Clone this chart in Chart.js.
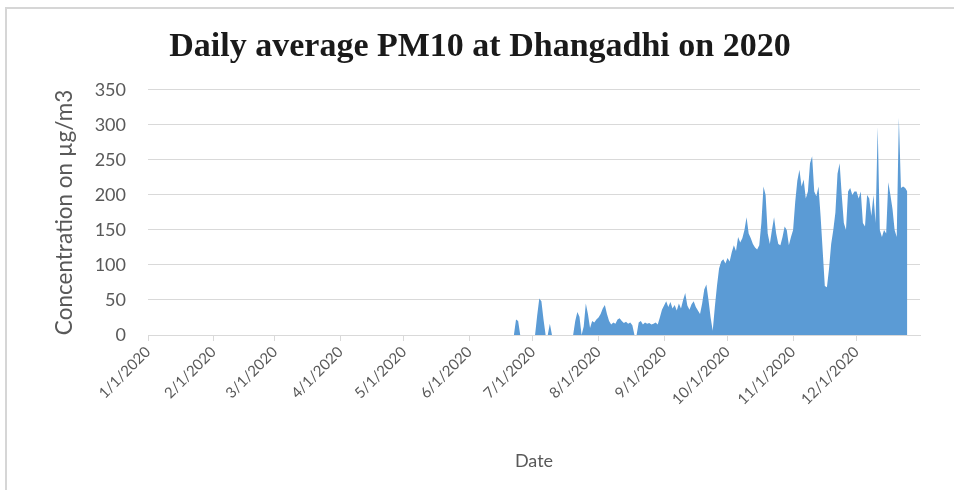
<!DOCTYPE html>
<html>
<head>
  <title>Daily average PM10 at Dhangadhi</title>
  <script src="https://cdn.jsdelivr.net/npm/chart.js"></script>
  <style>
    body { margin: 0; background: #fff; }
    #wrap { position: relative; width: 954px; height: 490px; }
    #frame { position: absolute; left: 5px; top: 7px; right: 0; bottom: 0;
             border-left: 2px solid #d6d6d6; border-top: 2px solid #d6d6d6; }
  </style>
</head>
<body>
  <div id="wrap">
    <div id="frame"></div>
    <canvas id="pmChart"></canvas>
  </div>

  <script>
    // days in each month of 2020 (leap year)
    const monthDays = [31, 29, 31, 30, 31, 30, 31, 31, 30, 31, 30, 31];

    // no readings from January to May
    const pm10JanToMay = new Array(152).fill(null);

    // daily averages, one value per day
    const pm10Jun = [null, null, null, null, null, null, null, null, null, null,
                     null, null, null, null, null, null, null, null, null, null,
                     null, 0, 22, 20, 0, 0, 0, 0, 0, 0];
    const pm10Jul = [0, 0, 28, 52, 48, 22, 0, 0, 16, 0,
                     0, 0, 0, 0, 0, 0, 0, 0, 0, 0,
                     20, 33, 26, 0, 12, 45, 30, 10, 20, 18, 22];
    const pm10Aug = [25, 30, 38, 43, 30, 20, 15, 18, 16, 22,
                     24, 20, 17, 19, 16, 18, 14, 0, 0, 18,
                     20, 15, 18, 16, 17, 15, 16, 18, 15, 25, 36];
    const pm10Sep = [42, 48, 40, 47, 38, 43, 35, 45, 38, 50,
                     60, 42, 36, 44, 48, 40, 35, 30, 45, 65,
                     72, 50, 25, 6, 40, 70, 95, 105, 108, 102];
    const pm10Oct = [110, 105, 118, 128, 120, 140, 132, 138, 150, 168,
                     145, 138, 130, 125, 122, 128, 160, 212, 200, 145,
                     130, 150, 168, 145, 130, 128, 140, 155, 150, 128, 140];
    const pm10Nov = [150, 190, 220, 236, 212, 222, 195, 205, 245, 255,
                     205, 198, 212, 170, 120, 70, 68, 95, 130, 150,
                     175, 230, 245, 200, 160, 150, 205, 210, 200, 205];
    const pm10Dec = [205, 195, 205, 160, 155, 200, 195, 170, 200, 160,
                     297, 150, 140, 150, 145, 218, 200, 180, 150, 140,
                     310, 210, 212, 210, 205, null, null, null, null, null, null];

    const yTicks = [0, 50, 100, 150, 200, 250, 300, 350];

    // one category per day, labelled M/D/2020
    const dayLabels = [];
    monthDays.forEach((n, m) => {
      for (let d = 1; d <= n; d++) dayLabels.push((m + 1) + '/' + d + '/2020');
    });

    const pm10 = [].concat(pm10JanToMay, pm10Jun, pm10Jul, pm10Aug,
                           pm10Sep, pm10Oct, pm10Nov, pm10Dec);

    const grey = '#595959';
    const gridGrey = '#d9d9d9';

    const ctx = document.getElementById('pmChart').getContext('2d');
    new Chart(ctx, {
      type: 'line',
      data: {
        labels: dayLabels,
        datasets: [{
          label: 'PM10',
          data: pm10,
          backgroundColor: '#5b9bd5',
          borderWidth: 0,
          pointRadius: 0,
          fill: 'origin',
          tension: 0,
        }],
      },
      options: {
        responsive: true,
        maintainAspectRatio: false,
        animation: false,
        layout: { padding: { left: 40, right: 34, top: 0, bottom: 0 } },
        plugins: {
          legend: { display: false },
          tooltip: { enabled: false },
          title: {
            display: true,
            text: 'Daily average PM10 at Dhangadhi on 2020',
            color: '#1a1a1a',
            font: { family: 'Liberation Serif', size: 34, weight: 'bold' },
            padding: { top: 27, bottom: 22 },
          },
        },
        scales: {
          x: {
            ticks: {
              autoSkip: false,
              minRotation: 45,
              maxRotation: 45,
              color: grey,
              font: { family: 'Lato', size: 15 },
              padding: 2,
              // only the first day of each month gets a label and a tick mark
              callback: function (value, index) {
                const label = dayLabels[index];
                return label.split('/')[1] === '1' ? label : null;
              },
            },
            grid: { drawOnChartArea: false, tickLength: 6, color: gridGrey },
            border: { color: gridGrey },
            title: {
              display: true,
              text: 'Date',
              color: grey,
              font: { family: 'Lato', size: 18 },
              padding: { top: 4, bottom: 18 },
            },
            afterFit: s => { s.height = 155; },
          },
          y: {
            min: 0,
            max: 350,
            afterBuildTicks: s => { s.ticks = yTicks.map(v => ({ value: v })); },
            ticks: {
              color: grey,
              font: { family: 'Lato', size: 18 },
              padding: 22,
            },
            grid: { color: gridGrey, drawTicks: false },
            border: { display: false },
            title: {
              display: true,
              text: 'Concentration on µg/m3',
              color: grey,
              font: { family: 'Lato', size: 22.5 },
              padding: { top: 11, bottom: 4 },
            },
            afterFit: s => { s.width = 108; },
          },
        },
      },
    });
  </script>
</body>
</html>
